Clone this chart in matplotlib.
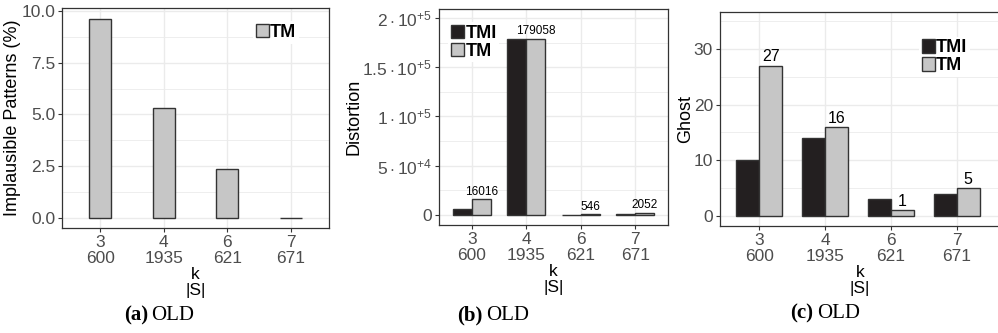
import matplotlib
matplotlib.use("Agg")
import matplotlib.pyplot as plt
from matplotlib.patches import Patch

# data
k_vals = ["3", "4", "6", "7"]
s_sizes = ["600", "1935", "621", "671"]

implausible_tm = [9.6, 5.3, 2.35, 0.02]

distortion_tmi = [6000, 179058, 300, 1200]
distortion_tm = [16016, 179058, 546, 2052]

ghost_tmi = [10, 14, 3, 4]
ghost_tm = [27, 16, 1, 5]

DARK = "#231F20"
LIGHT = "#C6C6C6"
EDGE = "#333333"
GRID = "#EBEBEB"
TICKC = "#4D4D4D"

plt.rcParams["font.family"] = ["Liberation Sans", "DejaVu Sans"]
plt.rcParams["mathtext.fontset"] = "custom"
plt.rcParams["mathtext.rm"] = "Liberation Sans"
plt.rcParams["mathtext.it"] = "Liberation Sans:italic"

fig = plt.figure(figsize=(9.98, 3.33), dpi=100)

W, H = 998.0, 333.0


def make_ax(x0, x1, y0, y1):
    return fig.add_axes([x0 / W, 1 - y1 / H, (x1 - x0) / W, (y1 - y0) / H])


ax_a = make_ax(62, 329, 8, 228)
ax_b = make_ax(439, 668, 9, 225)
ax_c = make_ax(720, 1000, 12, 226)

xpos = list(range(1, len(k_vals) + 1))
xlabels = [f"{k}\n{s}" for k, s in zip(k_vals, s_sizes)]
bw = 0.35


def style(ax, major, minor, ylim, ylabels, ylabel):
    ax.set_xlim(0.4, 4.6)
    ax.set_ylim(*ylim)
    ax.set_yticks(major)
    ax.set_yticklabels(ylabels)
    ax.set_yticks(minor, minor=True)
    ax.set_xticks(xpos)
    ax.set_xticklabels(xlabels, linespacing=1.05)
    ax.tick_params(axis="both", which="major", length=3, width=0.8, color=EDGE,
                   labelcolor=TICKC, labelsize=12.5, pad=2)
    ax.tick_params(axis="y", which="minor", length=0)
    ax.grid(True, which="major", color=GRID, linewidth=1.0, zorder=0)
    ax.grid(True, which="minor", axis="y", color=GRID, linewidth=0.6, zorder=0)
    ax.set_axisbelow(True)
    for sp in ax.spines.values():
        sp.set_color(EDGE)
        sp.set_linewidth(0.9)
    ax.set_ylabel(ylabel, fontsize=13, color="black", labelpad=0)
    ax.set_xlabel("k\n|S|", fontsize=12.5, color="black", linespacing=1.05, labelpad=1)


def legend(ax, labels, colors, x, y):
    handles = [Patch(facecolor=c, edgecolor=EDGE, linewidth=1.0, label=l)
               for l, c in zip(labels, colors)]
    lg = ax.legend(handles=handles, loc="upper left", bbox_to_anchor=(x, y),
                   frameon=True, fancybox=False, framealpha=1.0,
                   prop={"weight": "bold", "size": 13},
                   handlelength=0.75, handleheight=0.75, handletextpad=0.05,
                   labelspacing=0.05, borderpad=0.15, borderaxespad=0)
    lg.get_frame().set_edgecolor("none")
    lg.get_frame().set_facecolor("white")


# (a)
ax_a.bar(xpos, implausible_tm, width=bw, color=LIGHT, edgecolor=EDGE, linewidth=1.0, zorder=3)
style(ax_a, [0, 2.5, 5, 7.5, 10], [1.25, 3.75, 6.25, 8.75],
      (-0.48, 10.14), ["0.0", "2.5", "5.0", "7.5", "10.0"], "Implausible Patterns (%)")
legend(ax_a, ["TM"], [LIGHT], 0.715, 0.94)

# (b)
xl = [x - bw / 2 for x in xpos]
xr = [x + bw / 2 for x in xpos]
ax_b.bar(xl, distortion_tmi, width=bw, color=DARK, edgecolor=EDGE, linewidth=1.0, zorder=3)
ax_b.bar(xr, distortion_tm, width=bw, color=LIGHT, edgecolor=EDGE, linewidth=1.0, zorder=3)
for x, v in zip(xr, distortion_tm):
    ax_b.text(x, v + 1500, str(v), ha="center", va="bottom", fontsize=8.5, color="black")
style(ax_b, [0, 50000, 100000, 150000, 200000], [25000, 75000, 125000, 175000],
      (-10150, 209000),
      ["0", r"$5\cdot10^{+4}$", r"$1\cdot10^{+5}$", r"$1.5\cdot10^{+5}$", r"$2\cdot10^{+5}$"],
      "Distortion")
legend(ax_b, ["TMI", "TM"], [DARK, LIGHT], 0.04, 0.94)

# (c)
ax_c.bar(xl, ghost_tmi, width=bw, color=DARK, edgecolor=EDGE, linewidth=1.0, zorder=3)
ax_c.bar(xr, ghost_tm, width=bw, color=LIGHT, edgecolor=EDGE, linewidth=1.0, zorder=3)
for x, v in zip(xr, ghost_tm):
    ax_c.text(x, v + 0.2, str(v), ha="center", va="bottom", fontsize=11.5, color="black")
style(ax_c, [0, 10, 20, 30], [5, 15, 25, 35], (-1.8, 36.6),
      ["0", "10", "20", "30"], "Ghost")
ax_c.set_xlim(0.4, 4.66)
legend(ax_c, ["TMI", "TM"], [DARK, LIGHT], 0.71, 0.885)

# captions
cap_font = ["Liberation Serif", "DejaVu Serif"]
for xb, xo, y, tag in [(148, 151, 315, "(a)"), (482, 486, 315, "(b)"), (813, 817, 313, "(c)")]:
    fig.text(xb / W, 1 - y / H, tag, ha="right", va="center", fontsize=15,
             fontweight="bold", family=cap_font)
    fig.text(xo / W, 1 - y / H, "OLD", ha="left", va="center", fontsize=15,
             family=cap_font)

fig.savefig("out.png", dpi=100)
